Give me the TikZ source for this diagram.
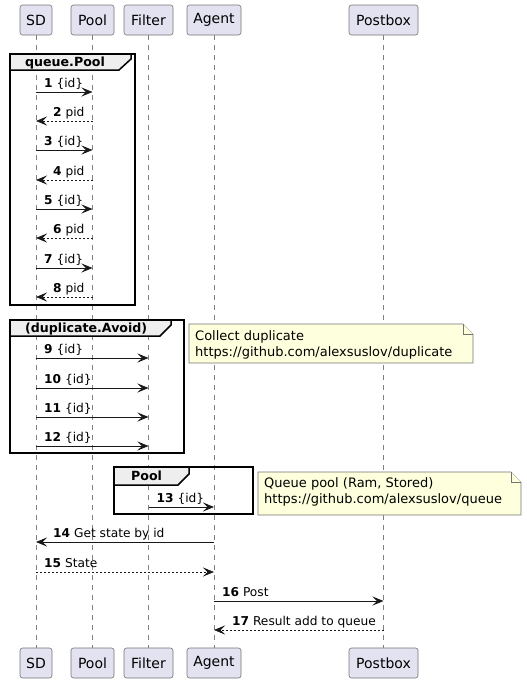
\documentclass[tikz,border=0pt]{standalone}
\usepackage{fontspec}
\setmainfont{DejaVu Sans}
\usetikzlibrary{calc, arrows.meta}
\definecolor{partfill}{HTML}{E2E2F0}
\definecolor{partline}{HTML}{181818}
\definecolor{notefill}{HTML}{FEFFDD}
\definecolor{grouphead}{HTML}{EEEEEE}

\begin{document}
\begin{tikzpicture}[x=1pt, y=-1pt,
  part/.style={draw=partline!60, fill=partfill, rounded corners=2.5pt, line width=0.6pt,
    minimum height=30pt, inner sep=0pt, font=\fontsize{14}{16}\selectfont},
  life/.style={draw=gray, dash pattern=on 5pt off 5pt, line width=0.6pt},
  msg/.style={-{Stealth[length=11pt, width=9pt, inset=4.5pt]}, draw=partline, line width=0.8pt},
  reply/.style={msg, dash pattern=on 2pt off 2pt},
  lbl/.style={anchor=base west, inner sep=0pt, font=\fontsize{12.2}{14}\selectfont},
  grp/.style={draw=black, line width=1.5pt},
  grptab/.style={grp, fill=grouphead},
  grplbl/.style={anchor=base west, inner sep=0pt, font=\fontsize{12.6}{14}\selectfont\bfseries},
  notebox/.style={draw=partline!60, fill=notefill, line width=0.6pt},
  notelbl/.style={anchor=north west, align=left, inner sep=0pt, font=\fontsize{13}{16}\selectfont}]
  \useasboundingbox (0,0) rectangle (527,683);

  % participants, top and bottom
  \foreach \p/\t/\x/\w in {sd/SD/36/32, pool/Pool/92.5/43, filter/Filter/148.5/49,
                           agent/Agent/214/54, postbox/Postbox/383.5/69}{
    \node[part, minimum width=\w pt] (\p T) at (\x,20) {\t};
    \node[part, minimum width=\w pt] (\p B) at (\x,663) {\t};
    \draw[life] (\p T.south) -- (\p B.north);
  }

  % group queue.Pool
  \draw[grp] (10,54) rectangle (135,305);
  \draw[grptab] (10,54) -- (131,54) -- (131,59) -- (119,70) -- (10,70) -- cycle;
  \node[grplbl] (gQueue) at (25,66) {queue.Pool};
  \foreach \k/\y in {1/92, 3/150, 5/209, 7/268}{
    \draw[msg] (sdT |- 0,\y) -- (poolT |- 0,\y);
    \node[lbl] (m\k) at ($(sdT |- 0,\y)+(8,-5)$) {\textbf{\k} \{id\}};
  }
  \foreach \k/\y in {2/121, 4/180, 6/238, 8/297}{
    \draw[reply] (poolT |- 0,\y) -- (sdT |- 0,\y);
    \node[lbl] (m\k) at ($(sdT |- 0,\y)+(17,-5)$) {\textbf{\k} pid};
  }

  % group (duplicate.Avoid)
  \draw[grp] (10,320) rectangle (184,453);
  \draw[grptab] (10,320) -- (171,320) -- (171,325) -- (160,336) -- (10,336) -- cycle;
  \node[grplbl] (gDup) at (25,332) {(duplicate.Avoid)};
  \foreach \k/\y in {9/358, 10/388, 11/417, 12/446}{
    \draw[msg] (sdT |- 0,\y) -- (filterT |- 0,\y);
    \node[lbl] (m\k) at ($(sdT |- 0,\y)+(8,-5)$) {\textbf{\k} \{id\}};
  }
  \draw[notebox] (189,324) -- (463,324) -- (473,334) -- (473,363) -- (189,363) -- cycle;
  \draw[notebox] (463,324) -- (463,334) -- (473,334);
  \node[notelbl] (nDup) at (195,330.5) {Collect duplicate\\https://github.com/alexsuslov/duplicate};

  % group Pool
  \draw[grp] (114,467) rectangle (253,514);
  \draw[grptab] (114,467) -- (189,467) -- (189,474) -- (178,485) -- (114,485) -- cycle;
  \node[grplbl] (gPool) at (131,480) {Pool};
  \draw[msg] (filterT |- 0,507) -- (agentT |- 0,507);
  \node[lbl] (m13) at ($(filterT |- 0,507)+(8,-5)$) {\textbf{13} \{id\}};
  \draw[notebox] (258,472) -- (511,472) -- (521,482) -- (521,515) -- (258,515) -- cycle;
  \draw[notebox] (511,472) -- (511,482) -- (521,482);
  \node[notelbl] (nPool) at (264,477.5) {Queue pool (Ram, Stored)\\https://github.com/alexsuslov/queue};

  % remaining messages
  \draw[msg] (agentT |- 0,542) -- (sdT |- 0,542);
  \node[lbl] (m14) at ($(sdT |- 0,542)+(17,-5)$) {\textbf{14} Get state by id};
  \draw[reply] (sdT |- 0,572) -- (agentT |- 0,572);
  \node[lbl] (m15) at ($(sdT |- 0,572)+(8,-5)$) {\textbf{15} State};
  \draw[msg] (agentT |- 0,601) -- (postboxT |- 0,601);
  \node[lbl] (m16) at ($(agentT |- 0,601)+(8,-5)$) {\textbf{16} Post};
  \draw[reply] (postboxT |- 0,630) -- (agentT |- 0,630);
  \node[lbl] (m17) at ($(agentT |- 0,630)+(18,-5)$) {\textbf{17} Result add to queue};
\end{tikzpicture}
\end{document}
